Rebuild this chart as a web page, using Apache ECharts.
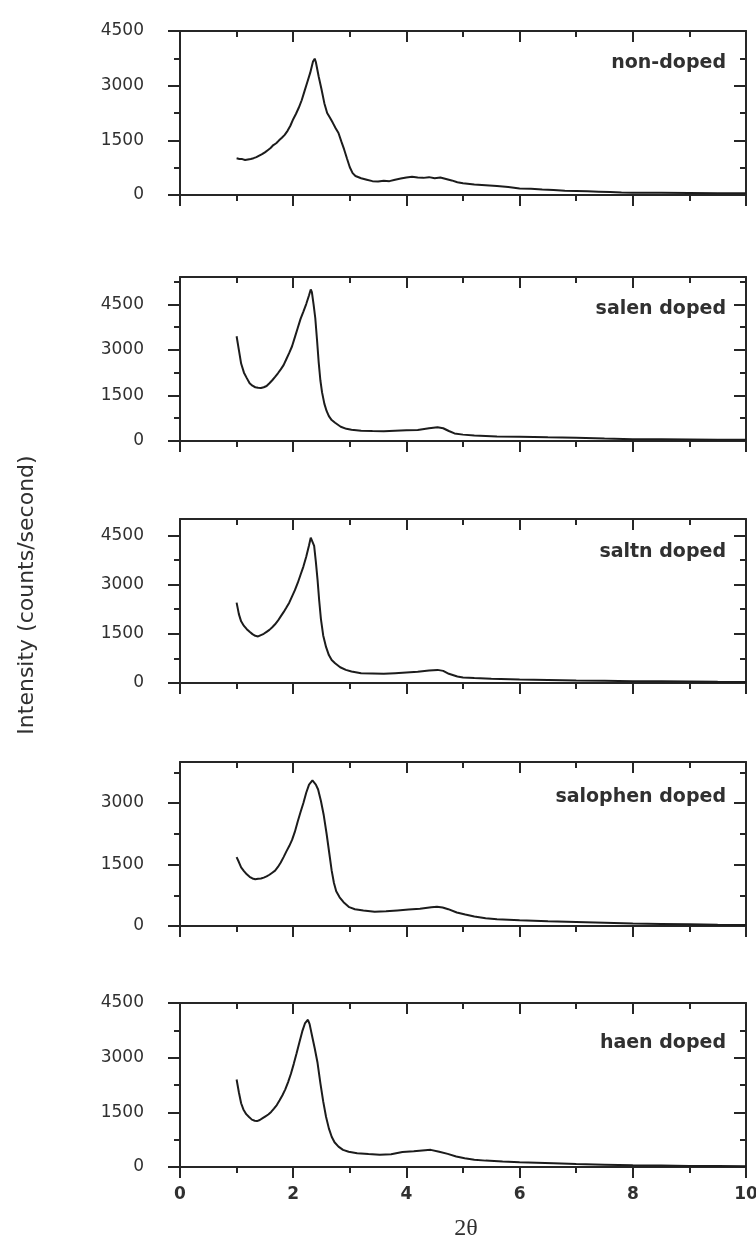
<!DOCTYPE html>
<html>
<head>
<meta charset="utf-8">
<script src="https://cdn.jsdelivr.net/npm/echarts@6/dist/echarts.min.js"></script>
<style>
html,body{margin:0;padding:0;background:#fff;}
#chart{width:756px;height:1249px;}
</style>
</head>
<body>
<div id="chart"></div>
<script>
// ---- data ----
const panelNames = ['non-doped', 'salen doped', 'saltn doped', 'salophen doped', 'haen doped'];
const yMaxima = [4500, 5400, 5000, 4000, 4500];
const xMajorTicks = [0, 2, 4, 6, 8, 10];
const xMinorTicks = [1, 3, 5, 7, 9];
const yMajorTicks = [0, 1500, 3000, 4500];
const yMinorTicks = [750, 2250, 3750, 5250];

const nonDoped = [
[1.00,1010],[1.05,990],[1.10,985],[1.15,960],[1.20,975],[1.25,990],[1.30,1010],[1.35,1040],[1.40,1080],[1.45,1120],
[1.50,1170],[1.55,1230],[1.60,1290],[1.65,1370],[1.70,1420],[1.75,1500],[1.80,1570],[1.85,1650],[1.90,1760],[1.95,1900],
[2.00,2080],[2.05,2230],[2.10,2400],[2.15,2600],[2.20,2850],[2.25,3100],[2.30,3350],[2.35,3660],[2.38,3740],[2.40,3650],
[2.45,3250],[2.50,2900],[2.55,2520],[2.60,2250],[2.65,2120],[2.70,1980],[2.75,1830],[2.80,1700],[2.85,1470],[2.90,1250],
[2.95,1000],[3.00,760],[3.05,600],[3.10,520],[3.20,460],[3.30,420],[3.40,380],[3.50,370],[3.60,390],[3.70,380],
[3.80,420],[3.90,450],[4.00,480],[4.10,500],[4.20,480],[4.30,470],[4.40,490],[4.50,460],[4.60,480],[4.70,440],
[4.80,400],[4.90,350],[5.00,320],[5.20,290],[5.40,270],[5.60,250],[5.80,220],[6.00,180],[6.20,170],[6.40,150],
[6.60,135],[6.80,120],[7.00,110],[7.20,100],[7.40,90],[7.60,80],[7.80,70],[8.00,65],[8.50,60],[9.00,55],[9.50,50],[10.0,45]
];
const salenDoped = [
[1.00,3450],[1.04,3000],[1.08,2550],[1.13,2250],[1.18,2070],[1.23,1900],[1.28,1820],[1.33,1770],[1.38,1750],[1.43,1745],
[1.48,1770],[1.53,1810],[1.58,1900],[1.63,2000],[1.68,2110],[1.73,2230],[1.78,2360],[1.83,2500],[1.88,2700],[1.93,2900],
[1.98,3120],[2.03,3420],[2.08,3720],[2.13,4020],[2.18,4260],[2.23,4510],[2.28,4800],[2.31,4990],[2.33,4900],[2.36,4500],
[2.39,4050],[2.42,3350],[2.45,2600],[2.48,2000],[2.51,1600],[2.55,1230],[2.59,990],[2.63,820],[2.68,690],[2.74,600],
[2.84,470],[2.94,400],[3.03,370],[3.20,340],[3.40,330],[3.60,325],[3.80,340],[4.00,350],[4.20,360],[4.40,420],
[4.55,450],[4.65,420],[4.75,330],[4.85,250],[5.00,210],[5.20,180],[5.40,165],[5.60,150],[6.00,140],[6.50,120],
[7.00,105],[7.50,80],[8.00,60],[8.50,55],[9.00,50],[9.50,45],[10.0,40]
];
const saltnDoped = [
[1.00,2450],[1.04,2100],[1.08,1880],[1.13,1740],[1.18,1640],[1.23,1560],[1.28,1490],[1.33,1440],[1.38,1420],[1.43,1460],
[1.48,1500],[1.53,1560],[1.58,1620],[1.63,1700],[1.68,1790],[1.73,1900],[1.78,2030],[1.83,2160],[1.88,2300],[1.93,2450],
[1.98,2640],[2.03,2830],[2.08,3050],[2.13,3300],[2.18,3550],[2.23,3850],[2.28,4200],[2.31,4430],[2.34,4450],[2.37,4180],
[2.40,3700],[2.43,3150],[2.46,2500],[2.49,1950],[2.53,1450],[2.58,1100],[2.63,850],[2.68,700],[2.74,600],[2.83,480],
[2.93,400],[3.03,350],[3.20,300],[3.40,290],[3.60,280],[3.80,300],[4.00,320],[4.20,340],[4.40,380],[4.55,400],
[4.65,370],[4.75,280],[4.90,200],[5.00,170],[5.20,150],[5.50,130],[6.00,110],[6.50,95],[7.00,80],[7.50,70],
[8.00,55],[8.50,50],[9.00,45],[9.50,35],[10.0,30]
];
const salophenDoped = [
[1.00,1680],[1.04,1560],[1.08,1430],[1.13,1340],[1.18,1260],[1.23,1200],[1.28,1160],[1.33,1140],[1.38,1150],[1.43,1160],
[1.48,1180],[1.53,1210],[1.58,1250],[1.63,1300],[1.68,1350],[1.73,1440],[1.78,1550],[1.83,1680],[1.88,1820],[1.93,1950],
[1.98,2100],[2.03,2300],[2.08,2550],[2.13,2780],[2.18,3000],[2.23,3250],[2.28,3450],[2.34,3550],[2.37,3510],[2.40,3450],
[2.44,3330],[2.49,3050],[2.54,2700],[2.59,2250],[2.64,1750],[2.68,1350],[2.72,1050],[2.76,850],[2.82,700],[2.89,580],
[2.99,460],[3.09,410],[3.24,380],[3.44,350],[3.64,360],[3.84,380],[4.04,400],[4.24,420],[4.44,460],[4.54,470],
[4.64,450],[4.74,410],[4.89,330],[5.04,280],[5.20,230],[5.40,190],[5.60,165],[6.00,140],[6.50,115],[7.00,100],
[7.50,80],[8.00,60],[8.50,50],[9.00,40],[9.50,30],[10.0,25]
];
const haenDoped = [
[1.00,2400],[1.04,2050],[1.08,1750],[1.12,1580],[1.17,1450],[1.22,1370],[1.27,1300],[1.32,1270],[1.36,1260],[1.41,1290],
[1.46,1340],[1.51,1390],[1.56,1440],[1.61,1510],[1.66,1600],[1.71,1700],[1.76,1830],[1.81,1970],[1.86,2130],[1.91,2330],
[1.96,2560],[2.01,2830],[2.06,3120],[2.11,3420],[2.16,3720],[2.21,3950],[2.26,4040],[2.29,3920],[2.33,3620],[2.38,3260],
[2.43,2860],[2.48,2300],[2.53,1800],[2.58,1380],[2.63,1060],[2.68,830],[2.73,680],[2.80,560],[2.88,470],[2.98,420],
[3.13,380],[3.33,355],[3.53,335],[3.73,350],[3.93,410],[4.13,430],[4.33,460],[4.43,470],[4.58,420],[4.73,360],
[4.88,290],[5.03,240],[5.20,200],[5.40,175],[5.70,150],[6.00,130],[6.30,115],[6.60,100],[7.00,80],[7.50,65],
[8.00,50],[8.50,40],[9.00,30],[9.50,25],[10.0,20]
];
const seriesData = [nonDoped, salenDoped, saltnDoped, salophenDoped, haenDoped];

// ---- layout / style ----
const gridTops = [31, 277, 519, 762, 1003];
const gridH = 164, gridLeft = 180, gridW = 566;
const labelY = [63, 309, 552, 797, 1043];
const ink = '#262626';
const textInk = '#303030';
const plain = v => String(v);

const grids = [], xAxes = [], yAxes = [], series = [], graphics = [];

gridTops.forEach((top, i) => {
  grids.push({left: gridLeft, top: top, width: gridW, height: gridH, containLabel: false, outerBoundsMode: 'none'});
  const ymax = yMaxima[i];
  const maj = yMajorTicks.filter(v => v <= ymax);
  const min = yMinorTicks.filter(v => v < ymax);
  const base = {gridIndex: i, type: 'value', min: 0, max: 10, splitLine: {show: false}};
  const lastPanel = i === gridTops.length - 1;
  xAxes.push(Object.assign({}, base, {
    position: 'bottom',
    axisLine: {show: true, onZero: false, lineStyle: {color: ink, width: 2}},
    axisTick: {show: true, inside: false, length: 11, customValues: xMajorTicks, lineStyle: {color: ink, width: 2}},
    axisLabel: {show: lastPanel, customValues: xMajorTicks, margin: 19, color: textInk, formatter: plain,
      fontFamily: 'DejaVu Sans', fontWeight: 'bold', fontSize: 17}
  }));
  xAxes.push(Object.assign({}, base, {
    position: 'bottom',
    axisLine: {show: false, onZero: false},
    axisTick: {show: true, inside: false, length: 6, customValues: xMinorTicks, lineStyle: {color: ink, width: 2}},
    axisLabel: {show: false}
  }));
  xAxes.push(Object.assign({}, base, {
    position: 'top',
    axisLine: {show: true, onZero: false, lineStyle: {color: ink, width: 2}},
    axisTick: {show: true, inside: true, length: 11, customValues: xMajorTicks, lineStyle: {color: ink, width: 2}},
    axisLabel: {show: false}
  }));
  xAxes.push(Object.assign({}, base, {
    position: 'top',
    axisLine: {show: false, onZero: false},
    axisTick: {show: true, inside: true, length: 6, customValues: xMinorTicks, lineStyle: {color: ink, width: 2}},
    axisLabel: {show: false}
  }));

  const ybase = {gridIndex: i, type: 'value', min: 0, max: ymax, splitLine: {show: false}};
  yAxes.push(Object.assign({}, ybase, {
    position: 'left',
    axisLine: {show: true, onZero: false, lineStyle: {color: ink, width: 2}},
    axisTick: {show: true, inside: false, length: 12, customValues: maj, lineStyle: {color: ink, width: 2}},
    axisLabel: {show: true, customValues: maj, margin: 36, color: textInk, formatter: plain,
      fontFamily: 'DejaVu Sans', fontSize: 17}
  }));
  yAxes.push(Object.assign({}, ybase, {
    position: 'left',
    axisLine: {show: false, onZero: false},
    axisTick: {show: true, inside: false, length: 6, customValues: min, lineStyle: {color: ink, width: 2}},
    axisLabel: {show: false}
  }));
  yAxes.push(Object.assign({}, ybase, {
    position: 'right',
    axisLine: {show: true, onZero: false, lineStyle: {color: ink, width: 2}},
    axisTick: {show: true, inside: true, length: 12, customValues: maj, lineStyle: {color: ink, width: 2}},
    axisLabel: {show: false}
  }));
  yAxes.push(Object.assign({}, ybase, {
    position: 'right',
    axisLine: {show: false, onZero: false},
    axisTick: {show: true, inside: true, length: 6, customValues: min, lineStyle: {color: ink, width: 2}},
    axisLabel: {show: false}
  }));

  series.push({
    type: 'line', name: panelNames[i], xAxisIndex: i * 4, yAxisIndex: i * 4,
    data: seriesData[i], showSymbol: false, symbol: 'none', smooth: false,
    lineStyle: {color: '#1c1c1c', width: 2}, silent: true
  });

  graphics.push({
    type: 'text', x: 726, y: labelY[i],
    style: {text: panelNames[i], fill: textInk, font: 'bold 19px "DejaVu Sans"',
      textAlign: 'right', textVerticalAlign: 'middle'}
  });
});

graphics.push({
  type: 'text', x: 27, y: 595, rotation: Math.PI / 2,
  style: {text: 'Intensity (counts/second)', fill: textInk, font: '22px "DejaVu Sans"',
    textAlign: 'center', textVerticalAlign: 'middle'}
});
graphics.push({
  type: 'text', x: 466, y: 1229,
  style: {text: '2θ', fill: textInk, font: '24px "Liberation Serif"',
    textAlign: 'center', textVerticalAlign: 'middle'}
});

const chart = echarts.init(document.getElementById('chart'), null, {renderer: 'canvas'});
chart.setOption({
  backgroundColor: '#ffffff',
  animation: false,
  grid: grids,
  xAxis: xAxes,
  yAxis: yAxes,
  series: series,
  graphic: graphics
});
</script>
</body>
</html>
